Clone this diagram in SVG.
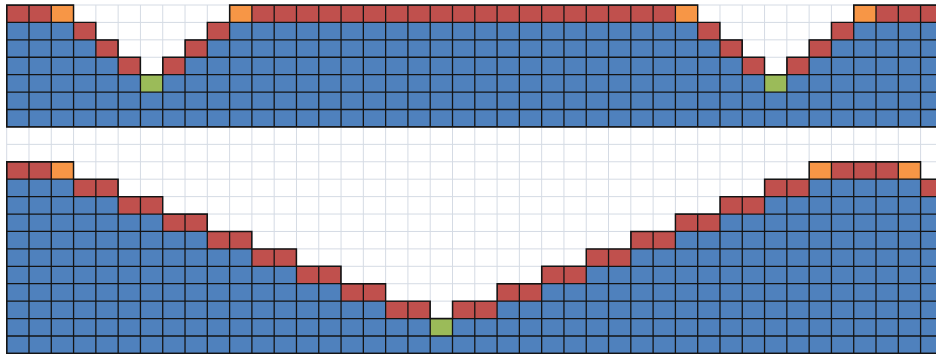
<svg xmlns="http://www.w3.org/2000/svg" xmlns:xlink="http://www.w3.org/1999/xlink" width="936" height="355" viewBox="0 0 936 355">
<style>
.light{stroke:#d5dbe4;stroke-width:1;fill:none}
.dark{stroke:#141414;stroke-width:1.3;fill:none}
.blue{fill:#4f81bd}
.red{fill:#c0504d}
.orange{fill:#f79646}
.green{fill:#9bbb59}
.outline{fill:none;stroke:#141414;stroke-width:1.4}
</style>
<defs>
<path id="grid" d="M6.7,5V353.4M28.99,5V353.4M51.28,5V353.4M73.57,5V353.4M95.86,5V353.4M118.15,5V353.4M140.44,5V353.4M162.73,5V353.4M185.02,5V353.4M207.31,5V353.4M229.6,5V353.4M251.89,5V353.4M274.18,5V353.4M296.47,5V353.4M318.76,5V353.4M341.05,5V353.4M363.34,5V353.4M385.63,5V353.4M407.92,5V353.4M430.21,5V353.4M452.5,5V353.4M474.79,5V353.4M497.08,5V353.4M519.37,5V353.4M541.66,5V353.4M563.95,5V353.4M586.24,5V353.4M608.53,5V353.4M630.82,5V353.4M653.11,5V353.4M675.4,5V353.4M697.69,5V353.4M719.98,5V353.4M742.27,5V353.4M764.56,5V353.4M786.85,5V353.4M809.14,5V353.4M831.43,5V353.4M853.72,5V353.4M876.01,5V353.4M898.3,5V353.4M920.59,5V353.4M6.7,5H936M6.7,22.42H936M6.7,39.84H936M6.7,57.26H936M6.7,74.68H936M6.7,92.1H936M6.7,109.52H936M6.7,126.94H936M6.7,144.36H936M6.7,161.78H936M6.7,179.2H936M6.7,196.62H936M6.7,214.04H936M6.7,231.46H936M6.7,248.88H936M6.7,266.3H936M6.7,283.72H936M6.7,301.14H936M6.7,318.56H936M6.7,335.98H936M6.7,353.4H936"/>
<polygon id="topShape" points="6.7,5 73.57,5 73.57,22.42 95.86,22.42 95.86,39.84 118.15,39.84 118.15,57.26 140.44,57.26 140.44,74.68 162.73,74.68 162.73,57.26 185.02,57.26 185.02,39.84 207.31,39.84 207.31,22.42 229.6,22.42 229.6,5 697.69,5 697.69,22.42 719.98,22.42 719.98,39.84 742.27,39.84 742.27,57.26 764.56,57.26 764.56,74.68 786.85,74.68 786.85,57.26 809.14,57.26 809.14,39.84 831.43,39.84 831.43,22.42 853.72,22.42 853.72,5 942.88,5 942.88,126.94 6.7,126.94"/>
<polygon id="botShape" points="6.7,161.78 73.57,161.78 73.57,179.2 118.15,179.2 118.15,196.62 162.73,196.62 162.73,214.04 207.31,214.04 207.31,231.46 251.89,231.46 251.89,248.88 296.47,248.88 296.47,266.3 341.05,266.3 341.05,283.72 385.63,283.72 385.63,301.14 430.21,301.14 430.21,318.56 452.5,318.56 452.5,301.14 497.08,301.14 497.08,283.72 541.66,283.72 541.66,266.3 586.24,266.3 586.24,248.88 630.82,248.88 630.82,231.46 675.4,231.46 675.4,214.04 719.98,214.04 719.98,196.62 764.56,196.62 764.56,179.2 809.14,179.2 809.14,161.78 920.59,161.78 920.59,179.2 942.88,179.2 942.88,353.4 6.7,353.4"/>
<clipPath id="colored">
<use xlink:href="#topShape"/>
<use xlink:href="#botShape"/>
</clipPath>
</defs>
<rect x="0" y="0" width="936" height="355" fill="#ffffff"/>
<use xlink:href="#grid" class="light"/>
<g id="top-section">
<use xlink:href="#topShape" class="blue"/>
<rect class="red" x="6.7" y="5" width="44.58" height="17.42"/>
<rect class="orange" x="51.28" y="5" width="22.29" height="17.42"/>
<rect class="orange" x="229.6" y="5" width="22.29" height="17.42"/>
<rect class="red" x="251.89" y="5" width="423.51" height="17.42"/>
<rect class="orange" x="675.4" y="5" width="22.29" height="17.42"/>
<rect class="orange" x="853.72" y="5" width="22.29" height="17.42"/>
<rect class="red" x="876.01" y="5" width="66.87" height="17.42"/>
<rect class="red" x="73.57" y="22.42" width="22.29" height="17.42"/>
<rect class="red" x="207.31" y="22.42" width="22.29" height="17.42"/>
<rect class="red" x="697.69" y="22.42" width="22.29" height="17.42"/>
<rect class="red" x="831.43" y="22.42" width="22.29" height="17.42"/>
<rect class="red" x="95.86" y="39.84" width="22.29" height="17.42"/>
<rect class="red" x="185.02" y="39.84" width="22.29" height="17.42"/>
<rect class="red" x="719.98" y="39.84" width="22.29" height="17.42"/>
<rect class="red" x="809.14" y="39.84" width="22.29" height="17.42"/>
<rect class="red" x="118.15" y="57.26" width="22.29" height="17.42"/>
<rect class="red" x="162.73" y="57.26" width="22.29" height="17.42"/>
<rect class="red" x="742.27" y="57.26" width="22.29" height="17.42"/>
<rect class="red" x="786.85" y="57.26" width="22.29" height="17.42"/>
<rect class="green" x="140.44" y="74.68" width="22.29" height="17.42"/>
<rect class="green" x="764.56" y="74.68" width="22.29" height="17.42"/>
</g>
<g id="bottom-section">
<use xlink:href="#botShape" class="blue"/>
<rect class="red" x="6.7" y="161.78" width="44.58" height="17.42"/>
<rect class="orange" x="51.28" y="161.78" width="22.29" height="17.42"/>
<rect class="orange" x="809.14" y="161.78" width="22.29" height="17.42"/>
<rect class="red" x="831.43" y="161.78" width="66.87" height="17.42"/>
<rect class="orange" x="898.3" y="161.78" width="22.29" height="17.42"/>
<rect class="red" x="73.57" y="179.2" width="44.58" height="17.42"/>
<rect class="red" x="764.56" y="179.2" width="44.58" height="17.42"/>
<rect class="red" x="920.59" y="179.2" width="22.29" height="17.42"/>
<rect class="red" x="118.15" y="196.62" width="44.58" height="17.42"/>
<rect class="red" x="719.98" y="196.62" width="44.58" height="17.42"/>
<rect class="red" x="162.73" y="214.04" width="44.58" height="17.42"/>
<rect class="red" x="675.4" y="214.04" width="44.58" height="17.42"/>
<rect class="red" x="207.31" y="231.46" width="44.58" height="17.42"/>
<rect class="red" x="630.82" y="231.46" width="44.58" height="17.42"/>
<rect class="red" x="251.89" y="248.88" width="44.58" height="17.42"/>
<rect class="red" x="586.24" y="248.88" width="44.58" height="17.42"/>
<rect class="red" x="296.47" y="266.3" width="44.58" height="17.42"/>
<rect class="red" x="541.66" y="266.3" width="44.58" height="17.42"/>
<rect class="red" x="341.05" y="283.72" width="44.58" height="17.42"/>
<rect class="red" x="497.08" y="283.72" width="44.58" height="17.42"/>
<rect class="red" x="385.63" y="301.14" width="44.58" height="17.42"/>
<rect class="red" x="452.5" y="301.14" width="44.58" height="17.42"/>
<rect class="green" x="430.21" y="318.56" width="22.29" height="17.42"/>
</g>
<g id="cell-borders">
<use xlink:href="#grid" class="dark" clip-path="url(#colored)"/>
<use xlink:href="#topShape" class="outline"/>
<use xlink:href="#botShape" class="outline"/>
</g>
</svg>
